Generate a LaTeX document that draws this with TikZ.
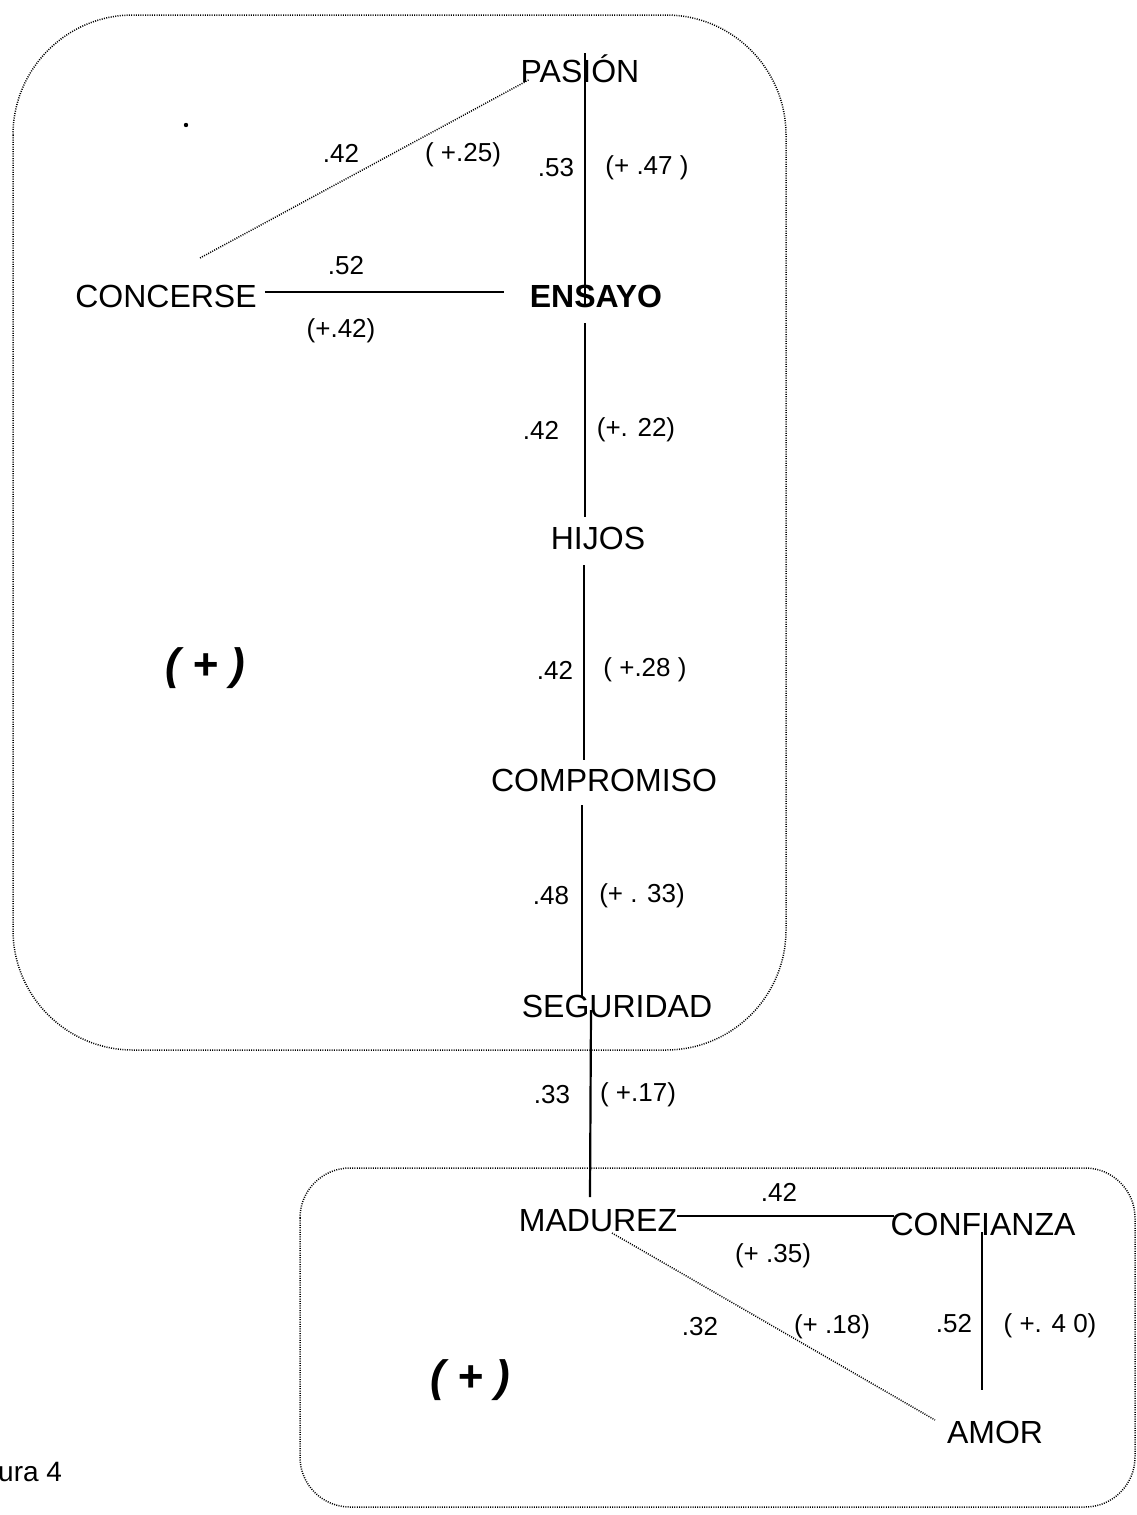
\documentclass[tikz,border=0pt]{standalone}
\usepackage{fontspec}
\setmainfont{Liberation Sans}
\usetikzlibrary{calc}
\tikzset{
  term/.style={inner sep=0pt, font=\fontsize{32}{38}\selectfont},
  termb/.style={term, font=\fontsize{32}{38}\selectfont\bfseries},
  lab/.style={inner sep=0pt, font=\fontsize{26}{31}\selectfont},
  sign/.style={inner sep=0pt, font=\fontsize{44}{52}\selectfont\bfseries\itshape},
  link/.style={line width=2.2pt},
  dotlink/.style={line width=1.5pt, dash pattern=on 1pt off 1.3pt},
  frame/.style={line width=1.5pt, dash pattern=on 1pt off 1.3pt},
}
\begin{document}
\begin{tikzpicture}[x=1pt,y=-1pt]
\useasboundingbox (0,0) rectangle (1137,1515);
% frames
\draw[frame, rounded corners=120pt] (13,15) rectangle (786,1050);
\draw[frame, rounded corners=50pt] (300,1168) rectangle (1135,1507);
% nodes
\node[term]  (pasion)     at (580,69)   {PASIÓN};
\node[term]  (concerse)   at (166,296)  {CONCERSE};
\node[termb] (ensayo)     at (596,296)  {ENSAYO};
\node[term]  (hijos)      at (598,538)  {HIJOS};
\node[term]  (compromiso) at (604,780)  {COMPROMISO};
\node[term]  (seguridad)  at (617,1006) {SEGURIDAD};
\node[term]  (madurez)    at (598,1221) {MADUREZ};
\node[term]  (confianza)  at (983,1224) {CONFIANZA};
\node[term]  (amor)       at (995,1432) {AMOR};
\node[sign]  (plusA)      at (205,668)  {( + )};
\node[sign]  (plusB)      at (470,1380) {( + )};
\node[lab, anchor=west, font=\fontsize{28}{33}\selectfont] (fig) at (-2,1472) {ura 4};
\fill (186,125) circle (2.2pt);
% connectors
\draw[link] ($(pasion)+(5,-16)$) -- ($(ensayo)+(-11,9)$);
\draw[link] ($(concerse.east)+(8,-4)$) -- ($(ensayo.west)+(-26,-4)$);
\draw[dotlink] ($(pasion.west)+(8,11)$) -- ($(concerse)+(34,-38)$);
\draw[link] ($(ensayo)+(-11,27)$) -- ($(hijos)+(-13,-21)$);
\draw[link] ($(hijos)+(-14,27)$) -- ($(compromiso)+(-20,-20)$);
\draw[link] ($(compromiso)+(-22,25)$) -- ($(seguridad)+(-35,-10)$);
\draw[link] ($(seguridad)+(-26,4)$) -- ($(madurez)+(-8,-24)$);
\draw[link] ($(madurez.east)+(0,-5)$) -- ($(confianza.west)+(4,-8)$);
\draw[dotlink] ($(madurez)+(14,12)$) -- ($(amor)+(-60,-12)$);
\draw[link] ($(confianza)+(-1,8)$) -- ($(amor)+(-13,-42)$);
% labels
\node[lab] (l1a) at (341,153) {.42};
\node[lab] (l1b) at (463,155) {( +.25)};
\node[lab] (l2a) at (556,168) {.53};
\node[lab] (l2b) at (647,168) {(+ .47 )};
\node[lab] (l3a) at (346,266) {.52};
\node[lab] (l3b) at (341,331) {(+.42)};
\node[lab] (l4a) at (541,430) {.42};
\node[lab] (l4b) at (636,430) {(+. 22)};
\node[lab] (l5a) at (555,670) {.42};
\node[lab] (l5b) at (645,670) {( +.28 )};
\node[lab] (l6a) at (551,896) {.48};
\node[lab] (l6b) at (642,896) {(+ . 33)};
\node[lab] (l7a) at (552,1095) {.33};
\node[lab] (l7b) at (638,1095) {( +.17)};
\node[lab] (l8a) at (779,1192) {.42};
\node[lab] (l8b) at (773,1256) {(+ .35)};
\node[lab] (l9a) at (700,1327) {.32};
\node[lab] (l9b) at (832,1327) {(+ .18)};
\node[lab] (l10a) at (954,1324) {.52};
\node[lab] (l10b) at (1050,1326) {( +. 4 0)};
\end{tikzpicture}
\end{document}
